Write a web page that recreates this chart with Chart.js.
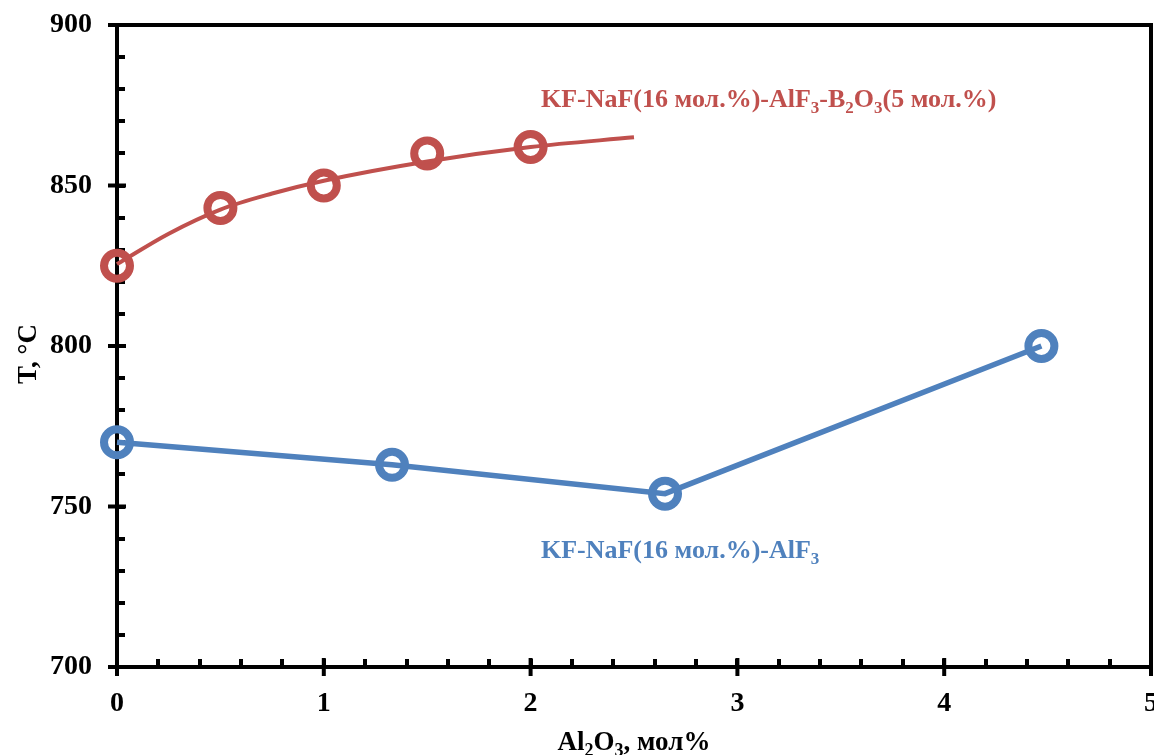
<!DOCTYPE html>
<html>
<head>
<meta charset="utf-8">
<script src="https://cdn.jsdelivr.net/npm/chart.js@4.4.1/dist/chart.umd.min.js"></script>
<style>
  html, body { margin: 0; padding: 0; background: #fff; overflow: hidden; }
  canvas { display: block; }
</style>
</head>
<body>
<canvas id="chart" width="1154" height="755"></canvas>
<script>
// data
const redX = [0, 0.5, 1, 1.5, 2];
const redY = [825, 843, 850, 860, 862];
const trendX = [0, 0.25, 0.5, 0.75, 1, 1.5, 2, 2.5];
const trendY = [825.5, 835, 842.5, 847.5, 851.5, 857.5, 862, 865];
const blueX = [0, 1.33, 2.65, 4.47];
const blueY = [770, 763, 754, 800];
const xTicks = [0, 1, 2, 3, 4, 5];
const yTicks = [700, 750, 800, 850, 900];

const RED = '#c0504d';
const BLUE = '#4f81bd';
const FONT = "'Liberation Serif', 'Times New Roman', serif";

const pts = (xs, ys) => xs.map((x, i) => ({ x: x, y: ys[i] }));

// text with subscripts: parts = [[text, isSub], ...]
function richText(ctx, parts, x, y, size, color) {
  ctx.save();
  ctx.fillStyle = color;
  ctx.textBaseline = 'alphabetic';
  ctx.textAlign = 'left';
  let cx = x;
  parts.forEach(p => {
    const s = p[1] ? Math.round(size * 0.65) : size;
    ctx.font = 'bold ' + s + 'px ' + FONT;
    ctx.fillText(p[0], cx, p[1] ? y + size * 0.22 : y);
    cx += ctx.measureText(p[0]).width;
  });
  ctx.restore();
}
function richWidth(ctx, parts, size) {
  let w = 0;
  ctx.save();
  parts.forEach(p => {
    const s = p[1] ? Math.round(size * 0.65) : size;
    ctx.font = 'bold ' + s + 'px ' + FONT;
    w += ctx.measureText(p[0]).width;
  });
  ctx.restore();
  return w;
}

const framePlugin = {
  id: 'frame',
  beforeDatasetsDraw(chart) {
    const ctx = chart.ctx, a = chart.chartArea;
    const xs = chart.scales.x, ys = chart.scales.y;
    ctx.save();
    ctx.strokeStyle = '#000';
    ctx.lineWidth = 4;
    ctx.beginPath();
    ctx.moveTo(a.left - 2, a.top);
    ctx.lineTo(a.right, a.top);
    ctx.lineTo(a.right, a.bottom + 2);
    ctx.stroke();
    // minor ticks (inside)
    for (let v = 0.2; v < 5; v += 0.2) {
      const px = Math.round(xs.getPixelForValue(v));
      ctx.beginPath();
      ctx.moveTo(px, a.bottom);
      ctx.lineTo(px, a.bottom - 8);
      ctx.stroke();
    }
    for (let v = 710; v < 900; v += 10) {
      const py = Math.round(ys.getPixelForValue(v));
      ctx.beginPath();
      ctx.moveTo(a.left, py);
      ctx.lineTo(a.left + 8, py);
      ctx.stroke();
    }
    // major ticks (cross)
    xTicks.forEach(v => {
      const px = xs.getPixelForValue(v);
      ctx.beginPath();
      ctx.moveTo(px, a.bottom - 9);
      ctx.lineTo(px, a.bottom + 9);
      ctx.stroke();
    });
    yTicks.forEach(v => {
      const py = ys.getPixelForValue(v);
      ctx.beginPath();
      ctx.moveTo(a.left - 9, py);
      ctx.lineTo(a.left + 9, py);
      ctx.stroke();
    });
    ctx.restore();
  },
  afterDraw(chart) {
    const ctx = chart.ctx, a = chart.chartArea;
    const xs = chart.scales.x, ys = chart.scales.y;
    // series labels
    richText(ctx, [['KF-NaF(16 мол.%)-AlF', 0], ['3', 1], ['-B', 0], ['2', 1], ['O', 0], ['3', 1], ['(5 мол.%)', 0]],
      xs.getPixelForValue(2.05), ys.getPixelForValue(874.5), 26, RED);
    richText(ctx, [['KF-NaF(16 мол.%)-AlF', 0], ['3', 1]],
      xs.getPixelForValue(2.05), ys.getPixelForValue(734), 26, BLUE);
    // x axis title
    const xt = [['Al', 0], ['2', 1], ['O', 0], ['3', 1], [', мол%', 0]];
    const w = richWidth(ctx, xt, 27);
    richText(ctx, xt, (a.left + a.right) / 2 - w / 2, 750, 27, '#000');
    // y axis title
    ctx.save();
    ctx.translate(36, (a.top + a.bottom) / 2 + 8);
    ctx.rotate(-Math.PI / 2);
    ctx.font = 'bold 27px ' + FONT;
    ctx.fillStyle = '#000';
    ctx.textAlign = 'center';
    ctx.textBaseline = 'alphabetic';
    ctx.fillText('T, °C', 0, 0);
    ctx.restore();
  }
};

new Chart(document.getElementById('chart'), {
  type: 'scatter',
  data: {
    datasets: [
      {
        label: 'trend',
        data: pts(trendX, trendY),
        showLine: true,
        borderColor: RED,
        borderWidth: 4,
        pointRadius: 0,
        cubicInterpolationMode: 'monotone',
        clip: false
      },
      {
        label: 'KF-NaF(16 мол.%)-AlF3-B2O3(5 мол.%)',
        data: pts(redX, redY),
        showLine: false,
        borderColor: RED,
        backgroundColor: 'rgba(0,0,0,0)',
        pointRadius: 13,
        pointBorderWidth: 8,
        clip: false
      },
      {
        label: 'KF-NaF(16 мол.%)-AlF3',
        data: pts(blueX, blueY),
        showLine: true,
        borderColor: BLUE,
        borderWidth: 5.5,
        backgroundColor: 'rgba(0,0,0,0)',
        pointRadius: 13,
        pointBorderWidth: 8,
        clip: false
      }
    ]
  },
  options: {
    responsive: false,
    animation: false,
    layout: { autoPadding: false, padding: { left: 0, right: 3, top: 25, bottom: 0 } },
    plugins: { legend: { display: false }, tooltip: { enabled: false } },
    scales: {
      x: {
        type: 'linear',
        min: 0, max: 5,
        afterBuildTicks: s => { s.ticks = xTicks.map(v => ({ value: v })); },
        afterFit: s => { s.height = 88; s.paddingLeft = 0; s.paddingRight = 0; },
        grid: { display: false },
        border: { display: true, color: '#000', width: 4 },
        ticks: { color: '#000', padding: 12, maxRotation: 0, font: { family: FONT, size: 28, weight: 'bold' } }
      },
      y: {
        type: 'linear',
        min: 700, max: 900,
        afterBuildTicks: s => { s.ticks = yTicks.map(v => ({ value: v })); },
        afterFit: s => { s.width = 117; s.paddingTop = 0; s.paddingBottom = 0; },
        grid: { display: false },
        border: { display: true, color: '#000', width: 4 },
        ticks: { color: '#000', padding: 17, font: { family: FONT, size: 28, weight: 'bold' } }
      }
    }
  },
  plugins: [framePlugin]
});
</script>
</body>
</html>
